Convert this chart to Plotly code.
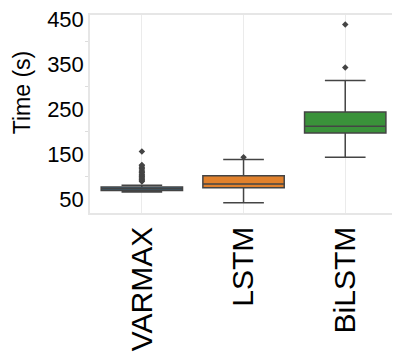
import plotly.graph_objects as go

models = ["VARMAX", "LSTM", "BiLSTM"]
q1 = [69, 75, 197]
median = [73, 83.5, 212]
q3 = [77, 102, 244]
lower_fence = [66, 42, 143]
upper_fence = [81, 138, 314]
fill_colors = ["#3274a1", "#e1812c", "#3a923a"]

outliers = {
    "VARMAX": [89, 91, 93, 95, 97, 99, 101, 103, 105, 108, 110, 112, 115, 118, 121, 124, 126, 156],
    "LSTM": [143],
    "BiLSTM": [343, 439],
}

y_tick_vals = [50, 150, 250, 350, 450]

line_gray = "#444444"
font_family = "Liberation Sans, Arial, sans-serif"

fig = go.Figure()
for i, m in enumerate(models):
    fig.add_trace(go.Box(
        x=[m], q1=[q1[i]], median=[median[i]], q3=[q3[i]],
        lowerfence=[lower_fence[i]], upperfence=[upper_fence[i]],
        fillcolor=fill_colors[i],
        line=dict(color=line_gray, width=1.5),
        width=0.8, whiskerwidth=0.5, boxpoints=False,
        showlegend=False, hoverinfo="skip",
    ))
for m in models:
    fig.add_trace(go.Scatter(
        x=[m] * len(outliers[m]), y=outliers[m], mode="markers",
        marker=dict(symbol="diamond", size=5, color=line_gray),
        showlegend=False, hoverinfo="skip",
    ))

fig.update_layout(
    width=393, height=352,
    margin=dict(l=90, r=1, t=15, b=139),
    plot_bgcolor="white", paper_bgcolor="white",
    boxmode="overlay",
    font=dict(family=font_family, color="black"),
)
fig.update_xaxes(
    type="category", categoryorder="array", categoryarray=models,
    range=[-0.51, 2.46],
    showgrid=True, gridcolor="#ebebeb", gridwidth=1,
    showline=True, linecolor="#e6e6e6", linewidth=1.5, mirror=True,
    tickangle=-90, tickfont=dict(size=30, family=font_family, color="black"),
    ticks="", ticklen=0, zeroline=False,
)
fig.update_yaxes(
    range=[19, 460],
    tickvals=y_tick_vals, ticktext=[str(v) for v in y_tick_vals],
    showgrid=False, zeroline=False,
    showline=True, linecolor="#e6e6e6", linewidth=1.5,
    ticks="", tickfont=dict(size=22, family=font_family, color="black"),
    minor=dict(tickvals=[100, 200, 300, 400], ticks="outside", ticklen=3,
               tickcolor="#dddddd", tickwidth=1),
)
fig.add_annotation(
    text="Time (s)", textangle=-90, xref="paper", yref="paper",
    x=-0.225, y=0.605, xanchor="center", yanchor="middle",
    showarrow=False, font=dict(size=23, family=font_family, color="black"),
)
fig.write_html("out.html")
